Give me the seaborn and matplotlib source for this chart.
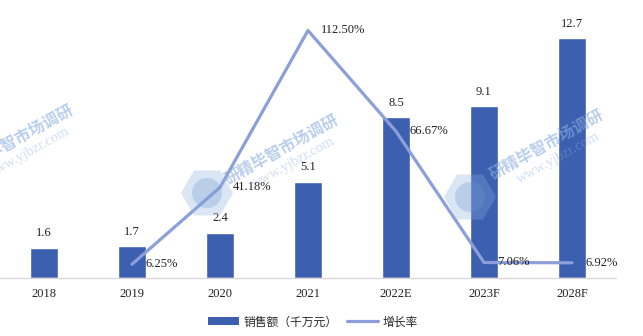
import matplotlib
matplotlib.use("Agg")
import matplotlib.pyplot as plt
from matplotlib.lines import Line2D
from matplotlib.patches import Patch, RegularPolygon, Circle
import seaborn as sns
import pandas as pd

years = ["2018", "2019", "2020", "2021", "2022E", "2023F", "2028F"]
sales = [1.6, 1.7, 2.4, 5.1, 8.5, 9.1, 12.7]
growth_years = ["2019", "2020", "2021", "2022E", "2023F", "2028F"]
growth = [6.25, 41.18, 112.50, 66.67, 7.06, 6.92]

sales_label = "销售额（千万元）"
growth_label = "增长率"
brand_cn = "研精毕智市场调研"
brand_url = "www.yjbzr.com"

bar_color = "#3C5FB0"
line_color = "#8C9FD8"
mark_color = "#8AAEE0"

sns.set_theme(style="white")
plt.rcParams["font.family"] = ["Liberation Serif", "Noto Sans CJK SC", "DejaVu Sans"]

W, H = 643, 336
fig = plt.figure(figsize=(W / 100, H / 100), dpi=100)
ax = fig.add_axes([0.0, 0.1726, 0.958, 0.7976])

df_sales = pd.DataFrame({"year": years, "sales": sales})
sns.barplot(data=df_sales, x="year", y="sales", color=bar_color,
            width=0.31, saturation=1, ax=ax, order=years)
ax.set_ylim(0, 14.18)
ax.set_xlim(-0.5, len(years) - 0.5)
ax.bar_label(ax.containers[0], labels=[f"{v:.1f}" for v in sales],
             padding=6, fontsize=9, color="#222222")

ax2 = ax.twinx()
df_growth = pd.DataFrame({"pos": [years.index(y) for y in growth_years],
                          "growth": growth})
sns.lineplot(data=df_growth, x="pos", y="growth", color=line_color,
             linewidth=2.3, ax=ax2)
ax2.set_ylim(0, 121.8)
for p, v in zip(df_growth["pos"], growth):
    ax2.annotate(f"{v:.2f}%", (p, v), xytext=(9.5, 0), textcoords="offset points",
                 ha="left", va="center", fontsize=9, color="#222222")

for a in (ax, ax2):
    for side in ("top", "right", "left"):
        a.spines[side].set_visible(False)
    a.set_yticks([])
    a.set_ylabel("")
    a.set_xlabel("")
ax2.spines["bottom"].set_visible(False)
ax.spines["bottom"].set_color("#D9D9D9")
ax.spines["bottom"].set_linewidth(1.0)
ax.tick_params(axis="x", length=0, pad=7, labelsize=9, labelcolor="#222222")

# faint brand watermark: rotated name, url and hexagon logo (pixel centres)
marks = [((17, 140), None), ((282, 150), (207, 193)), ((547, 145), (470, 197))]
for (tx, ty), logo in marks:
    fig.text(tx / W, 1 - ty / H, brand_cn, rotation=29, fontsize=11.5,
             color=mark_color, alpha=0.6, ha="center", va="center",
             family=["Noto Sans CJK SC"], fontweight="bold", zorder=5)
    fig.text((tx + 11) / W, 1 - (ty + 13) / H, brand_url, rotation=29,
             fontsize=10.5, color=mark_color, alpha=0.4, ha="center",
             va="center", family=["Liberation Serif"], zorder=5)
    if logo is not None:
        lx, ly = logo
        fig.patches.append(RegularPolygon((lx, H - ly), numVertices=6, radius=26,
                                          orientation=0.52, facecolor=mark_color,
                                          edgecolor="none", alpha=0.3,
                                          transform=None, zorder=4))
        fig.patches.append(Circle((lx, H - ly), radius=15, facecolor="#6F96D0",
                                  edgecolor="none", alpha=0.3,
                                  transform=None, zorder=4))

handles = [Patch(facecolor=bar_color, edgecolor="none"),
           Line2D([0], [0], color=line_color, linewidth=2.3)]
fig.legend(handles, [sales_label, growth_label], loc="center",
           bbox_to_anchor=(0.487, 0.042), ncol=2, frameon=False,
           handlelength=2.6, handleheight=0.6,
           columnspacing=0.8, handletextpad=0.4,
           prop={"family": ["Noto Sans CJK SC"], "size": 8.5})

fig.savefig("out.png", dpi=100)
